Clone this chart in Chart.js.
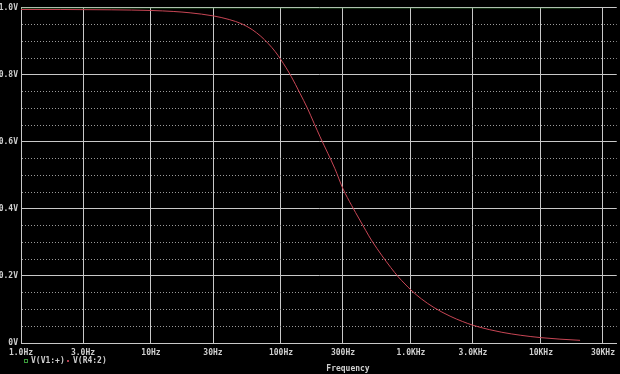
<!DOCTYPE html>
<html>
<head>
<meta charset="utf-8">
<script src="https://cdn.jsdelivr.net/npm/chart.js@4"></script>
<style>
  body { margin: 0; background: #000; }
  canvas { display: block; }
</style>
</head>
<body>
<canvas id="bode" width="620" height="374"></canvas>
<script>
// Frequency sweep (Hz) and the voltages
var freqs = [1, 2, 5, 10, 15, 20, 30, 40, 50, 60, 70, 80, 90, 100, 120, 140, 160, 180, 200, 230, 260, 300, 350, 400, 450, 500, 600, 700, 800, 900, 1000, 1200, 1500, 2000, 2500, 3000, 4000, 5000, 7000, 10000, 14000, 20000];
var vOut  = [0.995, 0.995, 0.994, 0.992, 0.989, 0.985, 0.976, 0.965, 0.952, 0.935, 0.915, 0.893, 0.870, 0.845, 0.795, 0.745, 0.70, 0.655, 0.615, 0.565, 0.52, 0.46, 0.41, 0.37, 0.335, 0.305, 0.26, 0.225, 0.197, 0.176, 0.158, 0.132, 0.106, 0.080, 0.064, 0.053, 0.040, 0.032, 0.023, 0.016, 0.0115, 0.008];
var vInFreqs = [1, 20000];
var vIn      = [1, 1];

var xTicks = [1, 3, 10, 30, 100, 300, 1000, 3000, 10000, 30000];
var xLabels = ['1.0Hz', '3.0Hz', '10Hz', '30Hz', '100Hz', '300Hz', '1.0KHz', '3.0KHz', '10KHz', '30KHz'];
var yLabels = {0: '0V', 0.2: '0.2V', 0.4: '0.4V', 0.6: '0.6V', 0.8: '0.8V', 1: '1.0V'};
var seriesNames = ['V(V1:+)', 'V(R4:2)'];

var FONT = { family: 'DejaVu Sans Mono', size: 8, weight: 'bold' };
var TXT = '#cfcfcf';

function pts(xs, ys) {
    return xs.map(function (f, i) { return { x: f, y: ys[i] }; });
}
function isMajor(v) {
    return Math.abs(v * 5 - Math.round(v * 5)) < 1e-6;
}

// legend line and axis caption under the plot
var extras = {
    id: 'extras',
    afterDraw: function (chart) {
        var c = chart.ctx;
        c.save();
        c.font = 'bold 8px "DejaVu Sans Mono"';
        c.textBaseline = 'middle';
        c.strokeStyle = '#3a9a3a';
        c.strokeRect(24.5, 359.5, 3, 3);
        c.fillStyle = TXT;
        c.fillText(seriesNames[0], 31, 361);
        c.fillStyle = '#b04050';
        c.fillRect(67, 360, 2, 2);
        c.fillStyle = TXT;
        c.fillText(seriesNames[1], 73, 361);
        c.textAlign = 'center';
        c.fillText('Frequency', 348, 369);
        c.restore();
    }
};

new Chart(document.getElementById('bode'), {
    type: 'line',
    data: {
        datasets: [
            { label: seriesNames[0], data: pts(vInFreqs, vIn), borderColor: '#3a9a3a', borderWidth: 1, pointRadius: 0, tension: 0 },
            { label: seriesNames[1], data: pts(freqs, vOut), borderColor: '#c84655', borderWidth: 1, pointRadius: 0, cubicInterpolationMode: 'monotone' }
        ]
    },
    options: {
        responsive: false,
        animation: false,
        devicePixelRatio: 1,
        layout: { padding: { top: 5, right: 0, left: 0, bottom: 0 } },
        plugins: { legend: { display: false }, tooltip: { enabled: false } },
        scales: {
            x: {
                type: 'logarithmic',
                min: 1,
                max: 38300,
                afterBuildTicks: function (s) { s.ticks = xTicks.map(function (v) { return { value: v }; }); },
                afterFit: function (s) { s.height = 31; },
                ticks: {
                    autoSkip: false, maxRotation: 0, padding: 5, color: TXT, font: FONT,
                    callback: function (v) { var i = xTicks.indexOf(v); return i < 0 ? '' : xLabels[i]; }
                },
                grid: { color: '#c8c8c8', lineWidth: 1, drawTicks: false },
                border: { color: '#c8c8c8' }
            },
            y: {
                min: 0,
                max: 1,
                afterFit: function (s) { s.width = 21; },
                ticks: {
                    stepSize: 0.05, padding: 3, color: TXT, font: FONT,
                    callback: function (v) { return isMajor(v) ? yLabels[Math.round(v * 5) / 5] : ''; }
                },
                grid: {
                    drawTicks: false,
                    color: function (ctx) { return isMajor(ctx.tick.value) ? '#c8c8c8' : '#9a9a9a'; }
                },
                border: {
                    color: '#c8c8c8',
                    dash: function (ctx) { return ctx.tick && !isMajor(ctx.tick.value) ? [1, 2] : []; }
                }
            }
        }
    },
    plugins: [extras]
});
</script>
</body>
</html>
